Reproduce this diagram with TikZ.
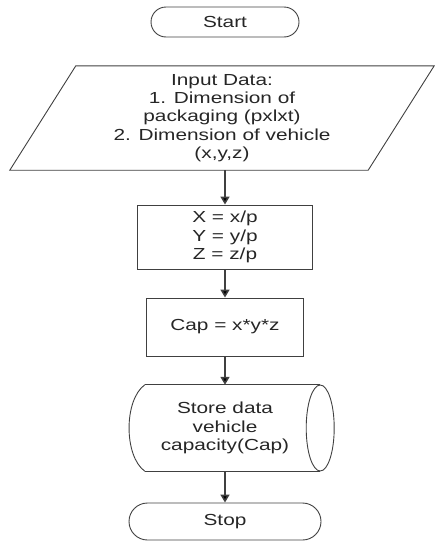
\documentclass[tikz,border=0pt]{standalone}
\usepackage{fontspec}
\setmainfont{Liberation Sans}[FakeStretch=1.3]
\usetikzlibrary{shapes.misc,arrows.meta}
\begin{document}
\begin{tikzpicture}[x=1pt,y=1pt,
  every node/.style={font=\fontsize{16}{18.3}\selectfont,text=black!85,align=center,inner sep=0pt},
  shapeline/.style={draw=black!75,line width=0.9pt},
  terminal/.style={shapeline,rounded rectangle},
  procbox/.style={shapeline,rectangle},
  flowarr/.style={draw=black!75,line width=1.6pt,-{Triangle[length=8pt,width=9pt,fill=black]}}]
\pgfmathsetmacro{\kmid}{225}
\pgfmathsetmacro{\kslant}{33}
\pgfmathsetmacro{\kbulge}{15}
\useasboundingbox(0,0)rectangle(435,-541);
% terminals
\node[terminal,minimum width=148pt,minimum height=30pt](start)at(\kmid,-22){Start};
\node[terminal,minimum width=192pt,minimum height=37pt](stop)at(\kmid,-521.5){Stop};
% input (parallelogram)
\node[minimum width=358pt,minimum height=104pt](input)at(222,-118){Input Data:\\1. Dimension of\\packaging (pxlxt)\\2. Dimension of vehicle\\(x,y,z)};
\draw[shapeline]([xshift=-\kslant pt]input.south west)--([xshift=\kslant pt]input.north west)--([xshift=\kslant pt]input.north east)--([xshift=-\kslant pt]input.south east)--cycle;
% process boxes
\node[procbox,minimum width=175pt,minimum height=64pt](calc)at(\kmid,-237){X = x/p\\Y = y/p\\Z = z/p};
\node[procbox,minimum width=157pt,minimum height=58pt](cap)at(\kmid,-327){Cap = x*y*z};
% stored data
\node[minimum width=190pt,minimum height=86pt](store)at(\kmid,-428){Store data\\vehicle\\capacity(Cap)};
\draw[shapeline]([xshift=\kbulge pt]store.north west)--(store.north east);
\draw[shapeline]([xshift=\kbulge pt]store.south west)--(store.south east);
\draw[shapeline]([xshift=\kbulge pt]store.north west)..controls([xshift=-6pt,yshift=-15pt]store.north west)and([xshift=-6pt,yshift=15pt]store.south west)..([xshift=\kbulge pt]store.south west);
\draw[shapeline](store.east)ellipse(14pt and 43pt);
% arrows
\draw[flowarr](input.south-|calc.north)--(calc.north);
\foreach \a/\b in {calc/cap,cap/store,store/stop}{\draw[flowarr](\a.south)--(\b.north);}
\end{tikzpicture}
\end{document}
